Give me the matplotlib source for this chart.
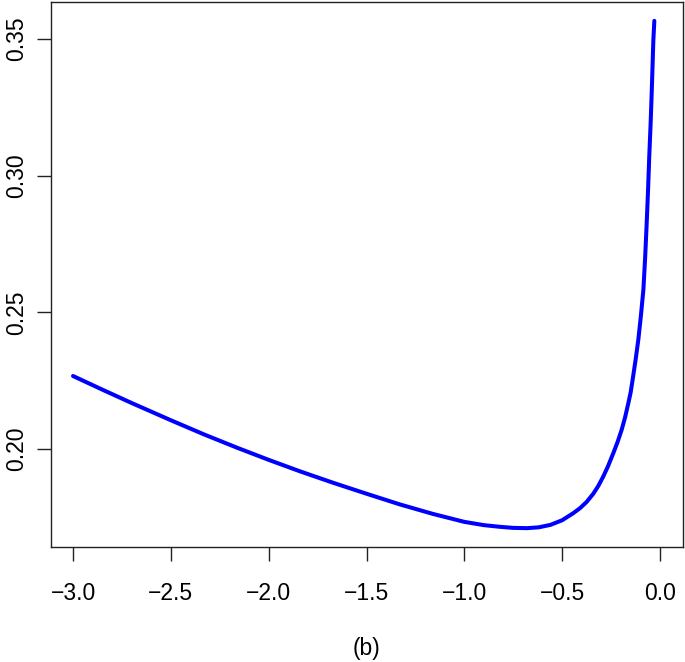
import matplotlib.pyplot as plt
import numpy as np

# valores (b)
x_vals = [-3.0, -2.85, -2.7, -2.5, -2.33, -2.16, -2.0, -1.84, -1.67, -1.5,
          -1.33, -1.16, -1.0, -0.9, -0.82, -0.75, -0.68, -0.62, -0.56, -0.5,
          -0.443, -0.409, -0.375, -0.341, -0.315, -0.29, -0.265, -0.239, -0.217, -0.196,
          -0.178, -0.162, -0.15, -0.14, -0.125, -0.111, -0.098, -0.085, -0.076, -0.068,
          -0.061, -0.055, -0.048, -0.042, -0.038, -0.034, -0.029]
y_vals = [0.2267, 0.2217, 0.2168, 0.2105, 0.2053, 0.2004, 0.1960, 0.1918, 0.1876, 0.1836,
          0.1797, 0.1762, 0.1733, 0.1721, 0.1715, 0.1711, 0.1710, 0.1713, 0.1722, 0.1739,
          0.1765, 0.1783, 0.1806, 0.1836, 0.1865, 0.1899, 0.1938, 0.1984, 0.2025, 0.2070,
          0.2117, 0.2167, 0.2207, 0.2253, 0.2325, 0.2399, 0.2485, 0.2582, 0.2700, 0.2827,
          0.2950, 0.3070, 0.3190, 0.3314, 0.3405, 0.3497, 0.3567]

x_ticks = [-3.0, -2.5, -2.0, -1.5, -1.0, -0.5, 0.0]
y_ticks = [0.20, 0.25, 0.30, 0.35]

plt.rcParams['font.family'] = ['Liberation Sans', 'DejaVu Sans']

fig = plt.figure(figsize=(6.85, 6.62), dpi=100)
ax = fig.add_axes([50.5 / 685, 1 - 547 / 662, (683 - 50.5) / 685, (547 - 2) / 662])

ax.plot(x_vals, y_vals, color='#0000FF', lw=2.9, solid_capstyle='round', solid_joinstyle='round')

ax.set_xlim(-3.115, 0.1175)
ax.set_ylim(0.1641, 0.3636)
ax.set_xticks(x_ticks)
ax.set_xticklabels([('%.1f' % v).replace('-', '\u2212') for v in x_ticks])
ax.set_yticks(y_ticks)
ax.set_yticklabels(['%.2f' % v for v in y_ticks], rotation=90, va='center')

ax.tick_params(axis='both', length=10, width=1, labelsize=16.5, color='#222222')
ax.tick_params(axis='x', pad=15)
ax.tick_params(axis='y', pad=6)
for s in ax.spines.values():
    s.set_linewidth(1)
    s.set_color('#222222')

fig.text(366.7 / 685, 1 - 648 / 662, '(b)', ha='center', va='center', fontsize=16.5)

fig.savefig('out.png', dpi=100)
